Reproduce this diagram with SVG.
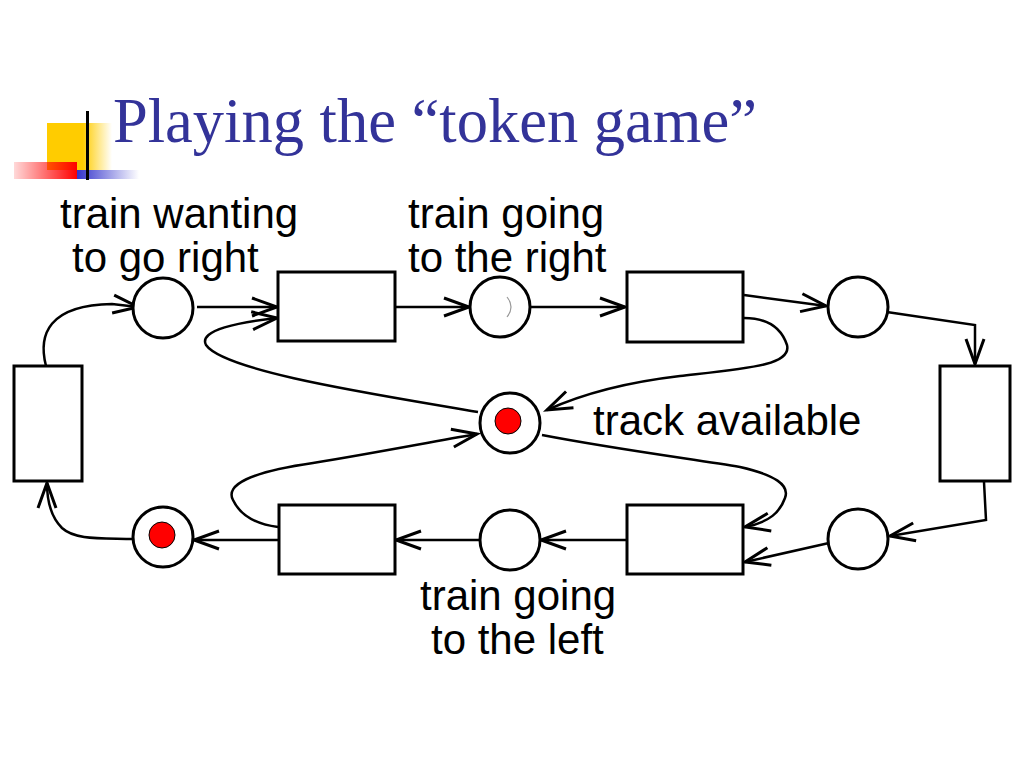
<svg xmlns="http://www.w3.org/2000/svg" width="1024" height="768" viewBox="0 0 1024 768">
<style>
.node{fill:#fff;stroke:#000;stroke-width:3}
.tok{fill:#f00;stroke:#000;stroke-width:1}
.arc{fill:none;stroke:#000;stroke-width:2.5;marker-end:url(#ah)}
.lbl{font-family:"Liberation Sans",Arial,sans-serif;font-size:42px;fill:#000}
.title{font-family:"Liberation Serif","Times New Roman",serif;font-size:62.5px;fill:#333399}
</style>
<defs>
<marker id="ah" markerUnits="userSpaceOnUse" markerWidth="40" markerHeight="30" viewBox="-30 -15 32 30" refX="0" refY="0" orient="auto">
<path d="M-25,-9 L0,0 L-25,9" fill="none" stroke="#000" stroke-width="3"/>
</marker>
<linearGradient id="gy" x1="0" x2="1" y1="0" y2="0"><stop offset="0" stop-color="#ffcc00"/><stop offset="0.55" stop-color="#ffcc00"/><stop offset="1" stop-color="#ffcc00" stop-opacity="0"/></linearGradient>
<linearGradient id="gr" x1="0" x2="1" y1="0" y2="0"><stop offset="0" stop-color="#ff0000" stop-opacity="0.15"/><stop offset="1" stop-color="#ff0000"/></linearGradient>
<linearGradient id="gb" x1="0" x2="1" y1="0" y2="0"><stop offset="0" stop-color="#3333cc"/><stop offset="1" stop-color="#3333cc" stop-opacity="0"/></linearGradient>
</defs>
<rect width="1024" height="768" fill="#fff"/>
<g id="logo">
<rect x="47" y="123" width="65" height="47" fill="url(#gy)"/>
<rect x="77" y="170" width="62" height="9" fill="url(#gb)"/>
<rect x="14" y="162" width="63" height="17" fill="url(#gr)"/>
<rect x="86" y="111" width="3" height="69" fill="#000"/>
</g>
<text class="title" x="113" y="142">Playing the “token game”</text>
<g id="connectors">
<path class="arc" d="M46,366 C38,335 48,305 112,304 L138,307"/>
<path class="arc" d="M197,307 L277,307"/>
<path class="arc" d="M478,412 C380,395 225,372 206,345 C198,330 240,322 277,318"/>
<path class="arc" d="M395,307 L469,307"/>
<path class="arc" d="M530,307 L625,307"/>
<path class="arc" d="M744,295 L826,306"/>
<path class="arc" d="M744,318 C770,318 782,330 787,345 C792,365 750,368 680,376 C620,383 580,395 547,410"/>
<path class="arc" d="M880,311 L975,325 L975,364"/>
<path class="arc" d="M984,482 L986,520 L890,536"/>
<path class="arc" d="M829,543 L745,562"/>
<path class="arc" d="M542,435 C620,450 700,460 740,467 C775,475 790,485 785,498 C780,512 770,522 745,527"/>
<path class="arc" d="M626,540 L541,540"/>
<path class="arc" d="M480,540 L396,540"/>
<path class="arc" d="M278,527 C255,524 240,515 233,500 C225,485 250,472 313,463 C380,452 430,442 477,434"/>
<path class="arc" d="M278,540 L194,540"/>
<path class="arc" d="M133,539 C100,538 75,540 62,528 C50,516 47,500 47,483"/>
</g>
<g id="p_wanting_right"><circle class="node" cx="163" cy="308" r="30"/></g>
<g id="t1"><rect class="node" x="278" y="272" width="117" height="69"/></g>
<g id="p_going_right"><circle class="node" cx="500" cy="307" r="30"/><path d="M507,297 Q515,307 507,317" fill="none" stroke="#999" stroke-width="1.2"/></g>
<g id="t2"><rect class="node" x="627" y="272" width="116" height="70"/></g>
<g id="p_top_right"><circle class="node" cx="858" cy="307" r="30"/></g>
<g id="t_right"><rect class="node" x="940" y="366" width="70" height="115"/></g>
<g id="p_bottom_right"><circle class="node" cx="858" cy="539" r="30"/></g>
<g id="t3"><rect class="node" x="627" y="505" width="116" height="69"/></g>
<g id="p_going_left"><circle class="node" cx="510" cy="540" r="30"/></g>
<g id="t4"><rect class="node" x="279" y="505" width="116" height="69"/></g>
<g id="p_bottom_left"><circle class="node" cx="163" cy="537" r="30"/><circle class="tok" cx="162" cy="535" r="13"/></g>
<g id="t_left"><rect class="node" x="14" y="366" width="68" height="115"/></g>
<g id="p_track"><circle class="node" cx="510" cy="423" r="30"/><circle class="tok" cx="508" cy="421" r="13"/></g>
<g id="labels">
<text class="lbl" x="60" y="228">train wanting</text>
<text class="lbl" x="72" y="272">to go right</text>
<text class="lbl" x="408" y="228">train going</text>
<text class="lbl" x="408" y="272">to the right</text>
<text class="lbl" x="593" y="435">track available</text>
<text class="lbl" x="420" y="610">train going</text>
<text class="lbl" x="431" y="654">to the left</text>
</g>
</svg>
